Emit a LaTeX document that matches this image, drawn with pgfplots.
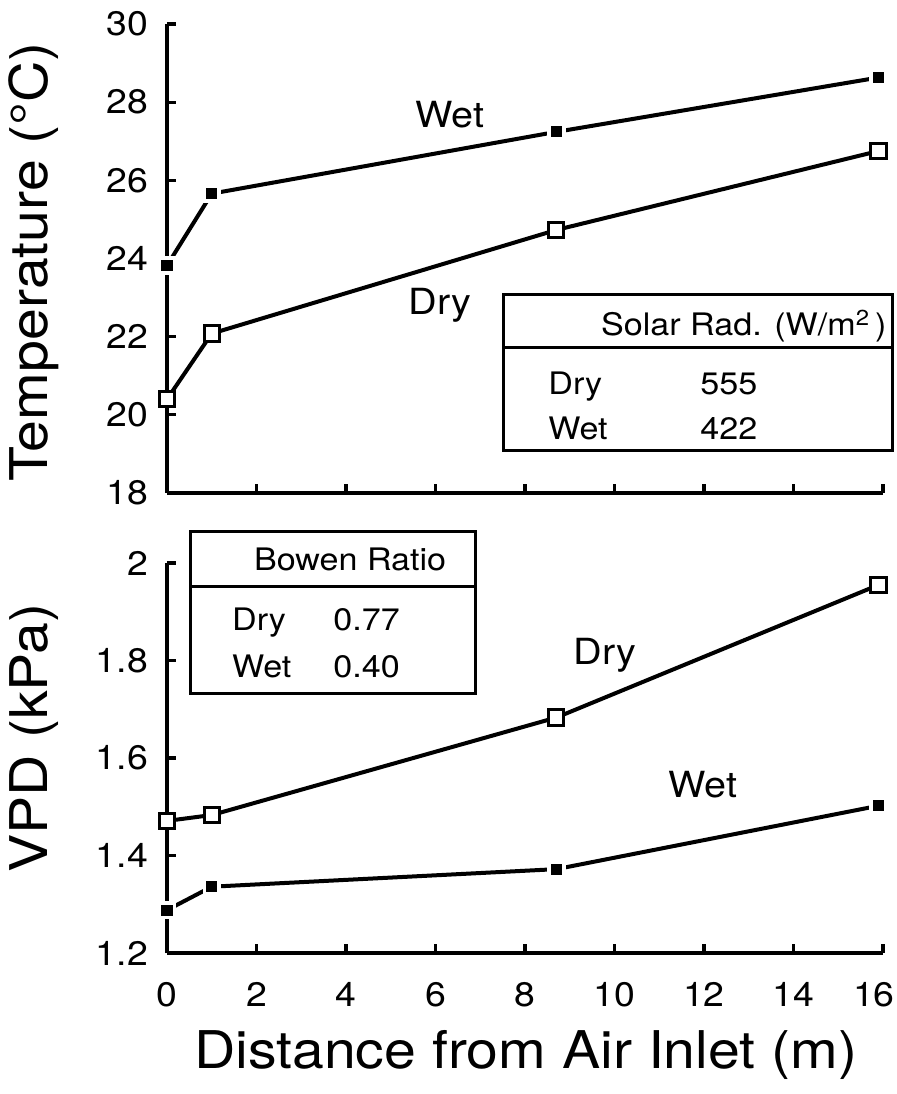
\documentclass[border=0pt]{standalone}
\usepackage{fontspec}
\setmainfont{TeX Gyre Heros}[FakeStretch=1.1]
\usepackage{pgfplots}
\pgfplotsset{compat=1.18}

% 1 px of the 896x1094 reference = 0.5pt; origin = bottom panel's lower left corner
\pgfplotsset{
  panel/.style={
    scale only axis, width=358pt, xmin=0, xmax=16,
    axis lines*=left, axis line style={line width=1.8pt},
    tick align=inside, major tick length=4.5pt,
    every tick/.style={line width=1.6pt, black},
    xtick={0,2,...,16}, clip=false,
    /pgf/number format/assume math mode=true,
    ticklabel style={font=\fontsize{17}{19}\selectfont},
    yticklabel style={xshift=-6pt},
    label style={font=\fontsize{26}{28}\selectfont},
  },
  wet/.style={black, line width=2pt, mark=square*, mark size=3.7pt,
    mark options={draw=white, fill=black, line width=1.8pt}},
  dry/.style={black, line width=2pt, mark=square*, mark size=3.8pt,
    mark options={draw=black, fill=white, line width=1.5pt}},
}
\tikzset{lab/.style={font=\fontsize{18}{20}\selectfont}}

\begin{document}
\begin{tikzpicture}
\useasboundingbox (-83.5pt,-70.5pt) rectangle (364.5pt,476.5pt);

% top: temperature
\begin{axis}[panel, at={(0pt,230pt)}, height=234.5pt,
  ymin=18, ymax=30, ytick={18,20,...,30}, xticklabels={},
  ylabel={Temperature (°C)},
  ylabel style={at={(axis description cs:-0.186,0.493)}, anchor=center}]
\addplot[wet] coordinates {(0,23.82) (1,25.66) (8.7,27.24) (15.9,28.63)};
\addplot[dry] coordinates {(0,20.40) (1,22.08) (8.7,24.73) (15.9,26.75)};
\node[lab] at (axis cs:6.32,27.67) {Wet};
\node[lab] at (axis cs:6.10,22.80) {Dry};
\end{axis}

% bottom: VPD
\begin{axis}[panel, at={(0pt,0pt)}, height=195pt,
  ymin=1.2, ymax=2, ytick={1.2,1.4,1.6,1.8,2}, yticklabels={1.2,1.4,1.6,1.8,2},
  xtick={0,2,...,14}, extra x ticks={16},
  extra x tick style={xticklabel style={xshift=-4.5pt}},
  xticklabel style={yshift=-11pt},
  xlabel={Distance from Air Inlet (m)}, ylabel={VPD (kPa)},
  xlabel style={at={(axis description cs:0.501,-0.262)}, anchor=center},
  ylabel style={at={(axis description cs:-0.186,0.551)}, anchor=center}]
\addplot[dry] coordinates {(0,1.471) (1,1.483) (8.7,1.683) (15.9,1.955)};
\addplot[wet] coordinates {(0,1.288) (1,1.336) (8.7,1.372) (15.9,1.502)};
\node[lab] at (axis cs:9.79,1.811) {Dry};
\node[lab] at (axis cs:11.98,1.545) {Wet};
\end{axis}

\begin{scope}[every node/.style={inner sep=0pt, font=\fontsize{15.5}{17}\selectfont}]
% solar radiation box
\draw[line width=1.5pt, fill=white] (168pt,251pt) rectangle (362.5pt,329pt);
\draw[line width=1.5pt] (168pt,302.5pt) -- (362.5pt,302.5pt);
\node[anchor=base east] at (360pt,308.5pt) {Solar Rad. (W/m\textsuperscript{2}\,)};
\node[anchor=base west] at (190.5pt,279.3pt) {Dry};
\node[anchor=base west] at (266.5pt,279.3pt) {555};
\node[anchor=base west] at (190.5pt,256.8pt) {Wet};
\node[anchor=base west] at (266.5pt,256.8pt) {422};
% Bowen ratio box
\draw[line width=1.5pt, fill=white] (11.8pt,130pt) rectangle (154pt,210.6pt);
\draw[line width=1.5pt] (11.8pt,183pt) -- (154pt,183pt);
\node[anchor=base east] at (139.8pt,191pt) {Bowen Ratio};
\node[anchor=base west] at (32.4pt,161pt) {Dry};
\node[anchor=base west] at (83pt,161pt) {0.77};
\node[anchor=base west] at (32.4pt,137.7pt) {Wet};
\node[anchor=base west] at (83pt,137.7pt) {0.40};
\end{scope}
\end{tikzpicture}
\end{document}
